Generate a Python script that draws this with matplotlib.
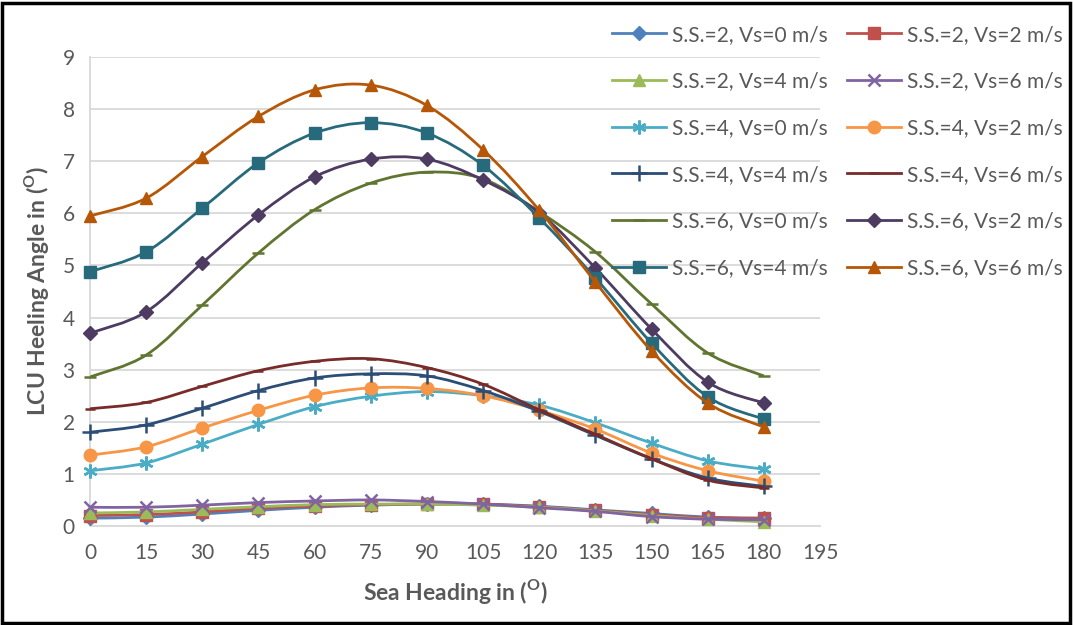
import matplotlib.pyplot as plt
from matplotlib.path import Path
from matplotlib.patches import PathPatch, Rectangle
from matplotlib.lines import Line2D

plt.rcParams['font.family'] = ['Lato', 'DejaVu Sans']

heading = [0, 15, 30, 45, 60, 75, 90, 105, 120, 135, 150, 165, 180]

ss2_vs0 = [0.15, 0.17, 0.23, 0.30, 0.36, 0.40, 0.42, 0.42, 0.38, 0.31, 0.24, 0.17, 0.15]
ss2_vs2 = [0.20, 0.22, 0.27, 0.34, 0.38, 0.41, 0.42, 0.42, 0.37, 0.30, 0.22, 0.16, 0.15]
ss2_vs4 = [0.25, 0.27, 0.32, 0.37, 0.41, 0.42, 0.42, 0.40, 0.36, 0.29, 0.20, 0.13, 0.08]
ss2_vs6 = [0.36, 0.36, 0.40, 0.45, 0.48, 0.50, 0.47, 0.42, 0.35, 0.28, 0.18, 0.13, 0.12]
ss4_vs0 = [1.06, 1.21, 1.57, 1.95, 2.29, 2.49, 2.58, 2.50, 2.32, 1.98, 1.59, 1.25, 1.09]
ss4_vs2 = [1.36, 1.52, 1.88, 2.22, 2.51, 2.65, 2.64, 2.50, 2.22, 1.86, 1.40, 1.06, 0.86]
ss4_vs4 = [1.80, 1.94, 2.26, 2.60, 2.84, 2.92, 2.88, 2.60, 2.20, 1.74, 1.29, 0.92, 0.76]
ss4_vs6 = [2.25, 2.37, 2.68, 2.98, 3.16, 3.21, 3.04, 2.72, 2.23, 1.76, 1.29, 0.88, 0.73]
ss6_vs0 = [2.86, 3.28, 4.24, 5.24, 6.07, 6.58, 6.79, 6.66, 6.03, 5.26, 4.26, 3.32, 2.88]
ss6_vs2 = [3.70, 4.11, 5.05, 5.97, 6.70, 7.04, 7.04, 6.64, 6.01, 4.95, 3.78, 2.76, 2.36]
ss6_vs4 = [4.88, 5.26, 6.10, 6.97, 7.54, 7.74, 7.54, 6.92, 5.91, 4.76, 3.51, 2.48, 2.05]
ss6_vs6 = [5.95, 6.29, 7.09, 7.86, 8.37, 8.46, 8.07, 7.22, 6.06, 4.68, 3.36, 2.36, 1.90]

labels = ['S.S.=2, Vs=0 m/s', 'S.S.=2, Vs=2 m/s', 'S.S.=2, Vs=4 m/s', 'S.S.=2, Vs=6 m/s',
          'S.S.=4, Vs=0 m/s', 'S.S.=4, Vs=2 m/s', 'S.S.=4, Vs=4 m/s', 'S.S.=4, Vs=6 m/s',
          'S.S.=6, Vs=0 m/s', 'S.S.=6, Vs=2 m/s', 'S.S.=6, Vs=4 m/s', 'S.S.=6, Vs=6 m/s']
series = [ss2_vs0, ss2_vs2, ss2_vs4, ss2_vs6, ss4_vs0, ss4_vs2,
          ss4_vs4, ss4_vs6, ss6_vs0, ss6_vs2, ss6_vs4, ss6_vs6]
colors = ['#4F81BD', '#C0504D', '#9BBB59', '#8064A2', '#4BACC6', '#F79646',
          '#2C4D75', '#772C2A', '#5F7530', '#4D3B62', '#276A7C', '#B65708']
markers = ['D', 's', '^', 'x', (6, 2, 0), 'o', '+', '_', '_', 'D', 's', '^']
msizes = [7, 8, 9, 9, 10, 9, 11, 7, 8, 7, 9, 9]


# excel style smoothed line (bezier through the points)
def smooth_path(x, y):
    pts = list(zip(x, y))
    n = len(pts)
    verts = [pts[0]]
    codes = [Path.MOVETO]
    for i in range(n - 1):
        p0 = pts[i - 1] if i > 0 else pts[i]
        p1 = pts[i]
        p2 = pts[i + 1]
        p3 = pts[i + 2] if i + 2 < n else pts[i + 1]
        c1 = (p1[0] + (p2[0] - p0[0]) / 6, p1[1] + (p2[1] - p0[1]) / 6)
        c2 = (p2[0] - (p3[0] - p1[0]) / 6, p2[1] - (p3[1] - p1[1]) / 6)
        verts += [c1, c2, p2]
        codes += [Path.CURVE4] * 3
    return Path(verts, codes)


fig = plt.figure(figsize=(10.73, 6.25), dpi=100)
ax = fig.add_axes([90 / 1073, 1 - 526 / 625, 730 / 1073, 469 / 625])

handles = []
for i, (ys, c, m, ms, lab) in enumerate(zip(series, colors, markers, msizes, labels)):
    ax.add_patch(PathPatch(smooth_path(heading, ys), facecolor='none', edgecolor=c,
                           lw=2.0, zorder=3 + i))
    mew = 1.8 if m in ['x', '+', '_', (6, 2, 0)] else 1.0
    ax.plot(heading, ys, linestyle='none', marker=m, markersize=ms, color=c,
            markeredgewidth=mew, clip_on=False, zorder=3 + i)
    handles.append(Line2D([], [], color=c, lw=2.0, marker=m, markersize=ms, markeredgewidth=mew))

ax.set_xlim(0, 195)
ax.set_ylim(0, 9)
ax.set_xticks(range(0, 196, 15))
ax.set_yticks(range(0, 10))
ax.tick_params(length=0, labelsize=15, labelcolor='#595959')
ax.tick_params(axis='x', pad=12)
ax.tick_params(axis='y', pad=11)
ax.grid(axis='y', color='#D9D9D9', lw=1.3)
ax.set_axisbelow(True)
for s in ['top', 'right']:
    ax.spines[s].set_visible(False)
for s in ['left', 'bottom']:
    ax.spines[s].set_color('#D9D9D9')
    ax.spines[s].set_linewidth(1.3)

ax.set_xlabel(r'Sea Heading in ($^{\mathregular{O}}$)', fontsize=16.5, fontweight='bold',
              color='#595959', labelpad=10)
ax.set_ylabel(r'LCU Heeling Angle in ($^{\mathregular{O}}$)', fontsize=16.5, fontweight='bold',
              color='#595959', labelpad=8)

# legend fills row by row, so reorder for matplotlib's column filling
order = [0, 2, 4, 6, 8, 10, 1, 3, 5, 7, 9, 11]
leg = fig.legend([handles[k] for k in order], [labels[k] for k in order], ncol=2,
                 loc='upper left', bbox_to_anchor=(593 / 1073, 1 - 6 / 625), frameon=False,
                 fontsize=15, handlelength=2.6, handletextpad=0.3, columnspacing=0.9,
                 labelspacing=1.28)
for t in leg.get_texts():
    t.set_color('#595959')

fig.patches.append(Rectangle((2 / 1073, 2 / 625), 1068 / 1073, 620 / 625, transform=fig.transFigure,
                             fill=False, edgecolor='black', lw=2.5))

plt.savefig('out.png', dpi=100)
